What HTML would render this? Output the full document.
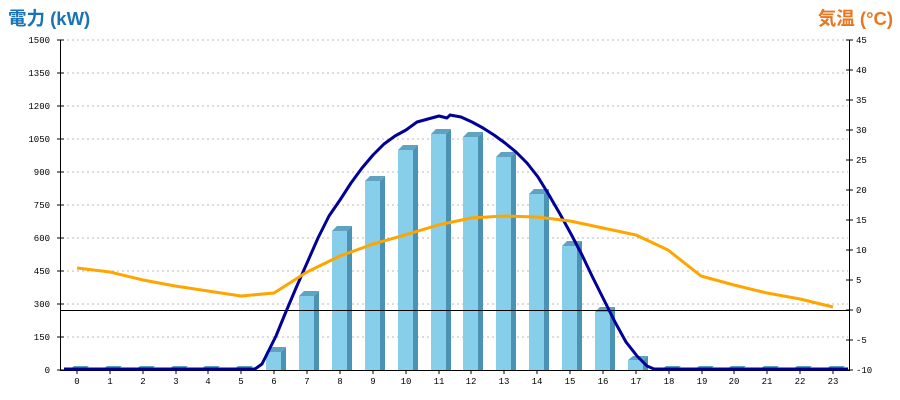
<!DOCTYPE html>
<html><head><meta charset="utf-8"><style>body{margin:0;background:#fff}svg{display:block}</style></head><body>
<svg width="900" height="400" xmlns="http://www.w3.org/2000/svg" font-family="Liberation Mono, monospace">
<text x="8" y="25" font-family="Liberation Sans, Noto Sans CJK JP, sans-serif" font-weight="bold" font-size="18.5" fill="#1a73b8">電力 (kW)</text>
<text x="893" y="25" text-anchor="end" font-family="Liberation Sans, Noto Sans CJK JP, sans-serif" font-weight="bold" font-size="18.5" fill="#e87722">気温 (°C)</text>
<g stroke="#bbb" stroke-dasharray="2,3">
<line x1="62" x2="848" y1="40" y2="40"/><line x1="62" x2="848" y1="73" y2="73"/><line x1="62" x2="848" y1="106" y2="106"/><line x1="62" x2="848" y1="139" y2="139"/><line x1="62" x2="848" y1="172" y2="172"/><line x1="62" x2="848" y1="205" y2="205"/><line x1="62" x2="848" y1="238" y2="238"/><line x1="62" x2="848" y1="271" y2="271"/><line x1="62" x2="848" y1="304" y2="304"/><line x1="62" x2="848" y1="337" y2="337"/>
</g>
<g font-size="9" fill="#000" text-anchor="end">
<text x="50" y="43">1500</text><text x="50" y="76">1350</text><text x="50" y="109">1200</text><text x="50" y="142">1050</text><text x="50" y="175">900</text><text x="50" y="208">750</text><text x="50" y="241">600</text><text x="50" y="274">450</text><text x="50" y="307">300</text><text x="50" y="340">150</text><text x="50" y="373">0</text>
</g>
<g font-size="9" fill="#000">
<text x="856" y="43">45</text><text x="856" y="73">40</text><text x="856" y="103">35</text><text x="856" y="133">30</text><text x="856" y="163">25</text><text x="856" y="193">20</text><text x="856" y="223">15</text><text x="856" y="253">10</text><text x="856" y="283">5</text><text x="856" y="313">0</text><text x="856" y="343">-5</text><text x="856" y="373">-10</text>
</g>
<defs>
<g id="slab"><polygon points="-8,370 -3,366 12,366 7,370" fill="#5a9fc0"/></g>
</defs>
<g>
<use href="#slab" x="77"/><use href="#slab" x="110"/><use href="#slab" x="143"/><use href="#slab" x="176"/><use href="#slab" x="208"/><use href="#slab" x="241"/>
<use href="#slab" x="669"/><use href="#slab" x="702"/><use href="#slab" x="734"/><use href="#slab" x="767"/><use href="#slab" x="800"/><use href="#slab" x="833"/>
<g transform="translate(274,0)"><polygon points="-8,352 -3,347 12,347 7,352" fill="#5fa3c1"/><polygon points="7,352 12,347 12,370 7,370" fill="#4a93b5"/><rect x="-8" y="352" width="15" height="18" fill="#87ceeb"/></g>
<g transform="translate(307,0)"><polygon points="-8,296 -3,291 12,291 7,296" fill="#5fa3c1"/><polygon points="7,296 12,291 12,370 7,370" fill="#4a93b5"/><rect x="-8" y="296" width="15" height="74" fill="#87ceeb"/></g>
<g transform="translate(340,0)"><polygon points="-8,231 -3,226 12,226 7,231" fill="#5fa3c1"/><polygon points="7,231 12,226 12,370 7,370" fill="#4a93b5"/><rect x="-8" y="231" width="15" height="139" fill="#87ceeb"/></g>
<g transform="translate(373,0)"><polygon points="-8,181 -3,176 12,176 7,181" fill="#5fa3c1"/><polygon points="7,181 12,176 12,370 7,370" fill="#4a93b5"/><rect x="-8" y="181" width="15" height="189" fill="#87ceeb"/></g>
<g transform="translate(406,0)"><polygon points="-8,150 -3,145 12,145 7,150" fill="#5fa3c1"/><polygon points="7,150 12,145 12,370 7,370" fill="#4a93b5"/><rect x="-8" y="150" width="15" height="220" fill="#87ceeb"/></g>
<g transform="translate(439,0)"><polygon points="-8,134 -3,129 12,129 7,134" fill="#5fa3c1"/><polygon points="7,134 12,129 12,370 7,370" fill="#4a93b5"/><rect x="-8" y="134" width="15" height="236" fill="#87ceeb"/></g>
<g transform="translate(471,0)"><polygon points="-8,137 -3,132 12,132 7,137" fill="#5fa3c1"/><polygon points="7,137 12,132 12,370 7,370" fill="#4a93b5"/><rect x="-8" y="137" width="15" height="233" fill="#87ceeb"/></g>
<g transform="translate(504,0)"><polygon points="-8,157 -3,152 12,152 7,157" fill="#5fa3c1"/><polygon points="7,157 12,152 12,370 7,370" fill="#4a93b5"/><rect x="-8" y="157" width="15" height="213" fill="#87ceeb"/></g>
<g transform="translate(537,0)"><polygon points="-8,194 -3,189 12,189 7,194" fill="#5fa3c1"/><polygon points="7,194 12,189 12,370 7,370" fill="#4a93b5"/><rect x="-8" y="194" width="15" height="176" fill="#87ceeb"/></g>
<g transform="translate(570,0)"><polygon points="-8,246 -3,241 12,241 7,246" fill="#5fa3c1"/><polygon points="7,246 12,241 12,370 7,370" fill="#4a93b5"/><rect x="-8" y="246" width="15" height="124" fill="#87ceeb"/></g>
<g transform="translate(603,0)"><polygon points="-8,312 -3,307 12,307 7,312" fill="#5fa3c1"/><polygon points="7,312 12,307 12,370 7,370" fill="#4a93b5"/><rect x="-8" y="312" width="15" height="58" fill="#87ceeb"/></g>
<g transform="translate(636,0)"><polygon points="-8,360 -3,356 12,356 7,360" fill="#5fa3c1"/><polygon points="7,360 12,356 12,370 7,370" fill="#4a93b5"/><rect x="-8" y="360" width="15" height="10" fill="#87ceeb"/></g>
</g>
<line x1="60" x2="850" y1="310.5" y2="310.5" stroke="#000"/>
<g stroke="#000"><line x1="60.5" x2="60.5" y1="40" y2="371"/><line x1="849.5" x2="849.5" y1="40" y2="371"/><line x1="60" x2="850" y1="370.5" y2="370.5"/>
<path d="M57 40H64M57 73H64M57 106H64M57 139H64M57 172H64M57 205H64M57 238H64M57 271H64M57 304H64M57 337H64M57 370H64"/>
<path d="M846 40H853M846 70H853M846 100H853M846 130H853M846 160H853M846 190H853M846 220H853M846 250H853M846 280H853M846 310H853M846 340H853M846 370H853"/>
<path d="M77 370V374M110 370V374M143 370V374M176 370V374M208 370V374M241 370V374M274 370V374M307 370V374M340 370V374M373 370V374M406 370V374M439 370V374M471 370V374M504 370V374M537 370V374M570 370V374M603 370V374M636 370V374M669 370V374M702 370V374M734 370V374M767 370V374M800 370V374M833 370V374"/>
</g>
<g font-size="9" text-anchor="middle">
<text x="77" y="384">0</text><text x="110" y="384">1</text><text x="143" y="384">2</text><text x="176" y="384">3</text><text x="208" y="384">4</text><text x="241" y="384">5</text><text x="274" y="384">6</text><text x="307" y="384">7</text><text x="340" y="384">8</text><text x="373" y="384">9</text><text x="406" y="384">10</text><text x="439" y="384">11</text><text x="471" y="384">12</text><text x="504" y="384">13</text><text x="537" y="384">14</text><text x="570" y="384">15</text><text x="603" y="384">16</text><text x="636" y="384">17</text><text x="669" y="384">18</text><text x="702" y="384">19</text><text x="734" y="384">20</text><text x="767" y="384">21</text><text x="800" y="384">22</text><text x="833" y="384">23</text>
</g>
<polyline fill="none" stroke="#000099" stroke-width="3" stroke-linejoin="round" points="64,369 255,369 262,364 268,352 276,336 285,314 296,288 307,263 318,238 329,216 340,200 351,183 362,168 373,155 384,144 395,136 406,130 417,122 428,119 439,116 447,118 450,115 461,117 472,122 483,128 494,135 505,143 516,152 527,163 538,177 549,195 560,214 571,234 582,255 593,278 604,300 615,322 626,342 637,356 647,366 654,369 848,369"/>
<polyline fill="none" stroke="#ffa500" stroke-width="3" stroke-linejoin="round" points="77,268 110,272 143,280 175,286 208,291 241,296 274,293 307,272 340,256 373,244 405,235 438,225 471,218 504,216 537,217 570,221 603,228 636,235 668,250 701,276 734,285 767,293 800,299 833,307"/>
</svg></body></html>
